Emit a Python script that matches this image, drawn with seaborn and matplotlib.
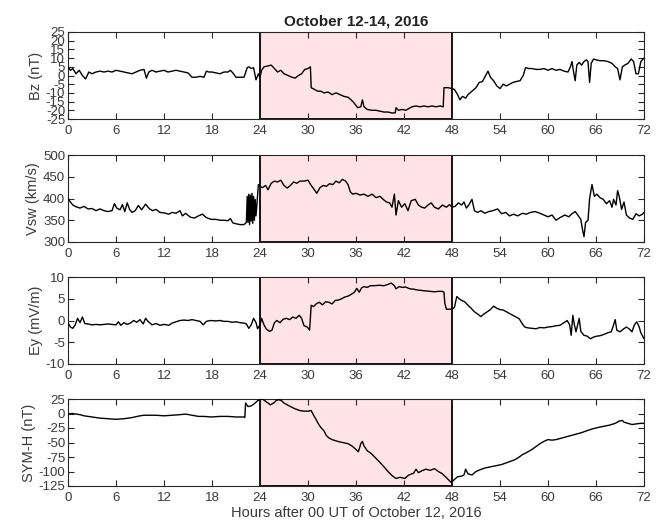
import numpy as np
import pandas as pd
import matplotlib
matplotlib.use("Agg")
import matplotlib.pyplot as plt
import seaborn as sns

# ---------------- data ----------------
bz_t = [0,0.3,0.6,1.0,1.4,1.8,2.2,2.6,3.0,3.5,4.0,4.5,5.0,5.5,6.0,6.5,7.0,7.5,8.0,8.5,9.0,9.5,9.8,10.1,10.5,11.0,11.5,12.0,12.5,13.0,13.5,14.0,14.5,15.0,15.5,16.0,16.5,17.0,17.3,17.6,18.0,18.5,19.0,19.5,20.0,20.3,20.6,21.0,21.5,22.0,22.4,22.6,22.9,23.2,23.5,23.8,24.0,
        24.2,24.5,25.0,25.4,25.8,26.2,26.6,27.0,27.5,28.0,28.4,28.8,29.2,29.6,30.0,30.3,30.4,30.8,31.2,31.6,32.0,32.5,33.0,33.5,34.0,34.5,35.0,35.4,35.8,36.2,36.6,36.8,37.0,37.4,38.0,38.5,39.0,39.5,40.0,40.5,40.9,41.0,41.3,41.8,42.2,42.6,43.0,43.5,44.0,44.5,45.0,45.5,46.0,46.5,46.9,47.0,47.5,48.0,
        48.3,48.7,49.0,49.3,49.7,50.0,50.5,51.0,51.4,51.8,52.2,52.5,52.8,53.2,53.6,54.0,54.4,54.8,55.2,55.6,56.0,56.5,56.9,57.2,57.6,58.0,58.5,59.0,59.5,60.0,60.5,61.0,61.5,62.0,62.5,62.8,63.0,63.2,63.4,63.6,63.9,64.2,64.5,64.8,65.0,65.2,65.4,65.7,66.0,66.5,67.0,67.5,68.0,68.4,68.7,69.0,69.3,69.6,70.0,70.4,70.7,71.0,71.3,71.6,72.0]
bz_v = [5,3,4,1,3,0,-2,2,1,2,2.5,2,2.5,2,3,2.5,2,1.5,1,2,3,3.5,-1.5,2,3,2,2.5,3,2,2.5,3,2.5,2,1.5,-1,-1,-0.5,-1,2.5,2,2,1.5,1,2,2,3,1.5,-1,-1,-1,4.5,5,4,4.5,-2.5,1,-1,
        3,5,5.5,6,4,2,3,1,0,-1,-1.5,0,1,3.5,4,5,-7,-8,-9,-9,-10,-9.5,-11,-10,-11,-12,-12.5,-14,-16,-18.5,-18,-14,-18,-19.5,-20,-20,-20.5,-21,-21,-21.5,-21.5,-18.5,-20,-19.5,-20,-19,-18,-17.5,-18,-17.5,-18,-17.5,-18,-17.5,-18,-7,-7,-7.5,
        -8,-11,-14,-12,-13,-11,-9,-7,-4,-3.5,0,2.5,-1,-3,-6,-7.5,-5,-6,-5,-4,-3.5,-3,0,4.5,4,4,3.5,3.5,4,3,4,3,3.5,2.5,2,5,8,2,-3,6,7.5,6,8,9,8,-4,7,9.5,9,8.5,8.5,8,7,5,4,-2.5,5,6,7,9.5,8,1,1,8,10]

vsw_t = [0,0.3,0.6,1.0,1.5,2.0,2.5,3.0,3.5,4.0,4.5,5.0,5.5,5.8,6.1,6.5,6.8,7.1,7.4,7.7,8.0,8.4,8.8,9.2,9.7,10.2,10.6,11.0,11.5,12.0,12.6,13.0,13.5,14.0,14.3,14.7,15.3,15.8,16.3,16.8,17.3,17.9,18.5,19.0,19.5,20.0,20.3,20.6,21.0,21.5,22.0,22.3,22.4,22.5,22.6,22.7,22.8,22.9,23.0,23.1,23.2,23.3,23.4,23.5,23.8,24.0,
         24.3,24.7,25.0,25.4,25.8,26.2,26.6,27.0,27.4,27.8,28.2,28.6,29.0,29.5,30.0,30.4,30.8,31.1,31.5,31.9,32.3,32.7,33.1,33.5,33.9,34.3,34.7,35.0,35.3,35.6,36.0,36.5,37.0,37.5,38.0,38.5,39.0,39.4,39.8,40.2,40.5,40.8,41.0,41.3,41.7,42.1,42.5,42.9,43.4,43.8,44.2,44.6,45.0,45.4,45.8,46.3,46.8,47.3,47.7,48.0,
         48.4,48.8,49.2,49.5,49.8,50.1,50.5,50.8,51.2,51.6,52.1,52.6,53.1,53.7,54.2,54.7,55.2,55.7,56.2,56.8,57.3,57.8,58.4,59.0,59.5,60.0,60.5,61.0,61.5,62.1,62.6,63.0,63.4,63.8,64.1,64.3,64.5,64.7,65.0,65.2,65.5,65.8,66.1,66.5,66.9,67.3,67.7,68.0,68.2,68.5,68.7,68.9,69.2,69.5,69.8,70.2,70.6,71.0,71.4,71.8,72.0]
vsw_v = [400,392,385,381,378,382,376,377,372,376,372,370,372,388,378,374,386,370,390,375,368,372,384,374,387,376,372,375,368,367,364,368,366,372,360,366,357,355,360,364,356,352,352,350,350,349,354,344,342,340,340,345,405,345,410,340,408,348,412,343,405,350,398,360,432,428,
         425,430,420,435,440,438,442,430,424,430,438,435,440,440,442,430,420,412,425,430,428,434,432,440,436,444,440,432,415,410,412,408,410,405,410,402,405,398,392,390,380,410,362,395,380,388,372,395,398,385,380,378,385,390,380,376,385,380,386,380,
         382,390,385,392,378,385,398,372,368,372,366,370,372,376,365,368,360,364,360,366,364,368,370,366,362,358,362,350,356,362,358,365,370,360,352,330,312,345,350,400,432,405,410,402,398,388,395,380,398,385,418,405,375,392,362,355,352,365,360,364,368]

ey_t = [0,0.3,0.6,0.9,1.2,1.5,1.8,2.1,2.5,3.0,3.5,4.0,4.5,5.0,5.5,6.0,6.3,6.6,7.0,7.4,7.8,8.2,8.6,9.0,9.4,9.7,10.0,10.5,11.0,11.5,12.0,12.6,13.0,13.5,14.0,14.5,15.0,15.5,16.0,16.5,16.9,17.3,17.8,18.5,19.0,19.5,20.0,20.5,21.0,21.5,22.0,22.3,22.6,22.9,23.2,23.5,23.7,24.0,
        24.2,24.5,24.8,25.2,25.5,25.8,26.1,26.5,26.9,27.3,27.7,28.1,28.5,28.9,29.2,29.5,29.9,30.2,30.4,30.7,31.0,31.4,31.8,32.2,32.6,33.0,33.4,33.8,34.2,34.6,35.0,35.4,35.8,36.1,36.4,36.7,37.0,37.4,37.8,38.3,38.9,39.5,40.0,40.4,40.8,41.0,41.4,41.8,42.2,42.7,43.2,43.7,44.2,44.8,45.3,45.8,46.3,46.8,47.0,47.1,47.3,47.7,48.0,
        48.3,48.6,48.9,49.2,49.6,50.0,50.4,50.8,51.2,51.6,52.0,52.4,52.8,53.2,53.6,54.0,54.4,54.8,55.2,55.6,56.0,56.4,56.8,57.1,57.5,58.0,58.5,59.0,59.5,60.0,60.5,61.0,61.5,62.0,62.4,62.7,62.9,63.1,63.3,63.5,63.7,63.9,64.1,64.5,64.9,65.3,65.7,66.1,66.5,67.0,67.5,67.9,68.2,68.4,68.6,69.0,69.4,69.8,70.2,70.5,70.8,71.1,71.4,71.6,71.8,72.0]
ey_v = [-0.5,-1.5,-1.8,-1.0,0.5,-0.5,0.8,-0.7,-0.8,-1,-0.9,-1.0,-0.9,-0.8,-0.9,-1,-0.3,-1.1,-0.5,-0.9,-0.6,0,-0.4,0.2,-0.8,0.5,-0.2,-1.0,-0.7,-1.1,-0.9,-1.1,-0.6,-0.3,0,0.1,0,0.2,0,-0.2,-1.0,-0.2,0,-0.1,0,-0.2,-0.2,-0.4,-0.3,-0.5,-0.6,-0.8,-1.8,-1.0,0.5,-0.5,-1.9,-1.0,
        0.5,-1,-2,-2.5,-2.2,-0.5,0,-0.5,0.3,0.5,0.2,0.8,0.5,1.2,0.5,-1.2,-1.5,-2.2,3.5,3.2,3.8,4.2,3.6,4.3,4.2,3.8,4.6,4.7,5.0,5.4,5.6,6.0,6.5,7.4,6.5,7.5,7.8,7.6,8.0,8.0,8.1,8.0,8.3,8.6,8.0,7.3,7.8,7.6,7.7,7.3,7.2,7.0,6.9,6.8,6.7,6.6,6.7,6.7,6.5,4.0,2.6,2.6,2.6,
        3.0,5.5,5.0,4.6,4.3,3.5,2.8,2.0,1.5,0.9,1.5,2.0,2.5,3.3,2.8,2.5,2.4,2.0,1.6,1.2,0.8,0.4,-0.8,-1.5,-1.7,-1.8,-1.9,-1.6,-1.7,-1.5,-1.4,-1.2,-1.1,-0.5,0,-1.0,-3.4,1.2,-1.0,-2.6,-1.0,0.5,-2.5,-3.4,-3.6,-4.2,-3.8,-3.6,-3.5,-3.2,-2.8,-2.6,-1.0,0.2,-2.2,-2.6,-2.0,-1.5,-2.0,-2.6,-1.0,-0.3,-1.5,-2.8,-3.5,-4.2]

symh_t = [0,0.5,1,1.5,2,3,4,5,6,7,8,9,9.5,10,11,12,13,14,14.7,15.5,16.3,17,17.9,19,20,21,22,22.1,22.2,22.5,22.9,23.3,23.7,24.0,24.3,24.6,25.0,25.3,25.7,26.0,26.3,26.7,27.0,27.4,27.8,28.4,29.0,29.5,30.0,30.4,30.7,31.0,31.3,31.6,32.0,32.3,32.6,33.0,33.7,34.3,35.0,35.5,36.0,36.3,36.6,36.8,37.0,37.4,37.9,38.4,38.9,39.5,40.0,40.5,41.0,41.5,42.1,42.6,43.2,43.5,43.8,44.2,44.7,45.3,45.8,46.3,46.8,47.4,47.9,
          48.2,48.7,49.2,49.5,49.7,50.0,50.5,51.0,51.5,52.1,52.8,53.5,54.2,55.0,55.8,56.3,56.8,57.5,58.0,58.4,59.0,59.5,60.0,60.5,61.0,61.8,62.6,63.4,64.2,65.0,65.7,66.3,67.0,67.7,68.4,68.9,69.3,69.5,70.0,70.5,71.0,71.5,72.0]
symh_v = [-1,0,-1,-2,-4,-6,-8,-9,-10,-9,-7,-4,-3,-3,-3,-4,-3,-2,-1,-3,-5,-5,-6,-5,-5,-6,-6,-7,18,12,13,17,22,24,25,22,18,15,18,22,24,22,18,15,12,8,5,4,4,5,-3,-10,-18,-24,-30,-38,-42,-45,-48,-50,-52,-56,-62,-66,-52,-48,-56,-64,-69,-76,-83,-92,-100,-107,-112,-110,-112,-106,-103,-96,-102,-99,-96,-98,-95,-100,-104,-112,-119,
          -115,-109,-108,-106,-96,-104,-106,-100,-97,-94,-92,-90,-88,-84,-80,-76,-71,-66,-62,-58,-52,-48,-45,-46,-45,-42,-39,-36,-33,-29,-26,-24,-22,-20,-17,-13,-12,-15,-17,-19,-18,-17,-17]

panels = [
    ("Bz (nT)", bz_t, bz_v, (-25, 25), list(range(-25, 26, 5))),
    ("Vsw (km/s)", vsw_t, vsw_v, (300, 500), [300, 350, 400, 450, 500]),
    ("Ey (mV/m)", ey_t, ey_v, (-10, 10), [-10, -5, 0, 5, 10]),
    ("SYM-H (nT)", symh_t, symh_v, (-125, 25), [-125, -100, -75, -50, -25, 0, 25]),
]
x_ticks = list(range(0, 73, 6))
event_start, event_end = 24, 48
title = "October 12-14, 2016"
xlabel = "Hours after 00 UT of October 12, 2016"

# ---------------- style ----------------
sns.set_theme(style="ticks")
plt.rcParams["font.family"] = ["Liberation Sans", "DejaVu Sans"]
text_col = "#3a3a3a"
plt.rcParams.update({
    "axes.edgecolor": "#262626",
    "axes.linewidth": 0.8,
    "xtick.color": "#262626",
    "ytick.color": "#262626",
    "xtick.labelcolor": text_col,
    "ytick.labelcolor": text_col,
    "axes.labelcolor": text_col,
})

W, H = 660, 526
fig = plt.figure(figsize=(W / 100, H / 100), dpi=100)
left, right = 68, 644
tops = [32, 155, 277, 399]
ph = 87

for i, (lab, t, v, ylim, yt) in enumerate(panels):
    top = tops[i]
    ax = fig.add_axes([left / W, 1 - (top + ph) / H, (right - left) / W, ph / H])
    ax.axvspan(event_start, event_end, facecolor="#FFE3E6", edgecolor="black",
               linewidth=1.3, zorder=0)
    df = pd.DataFrame({"t": t, "v": v})
    sns.lineplot(data=df, x="t", y="v", ax=ax, color="black", linewidth=1.0,
                 estimator=None, sort=False, zorder=3)
    ax.set_xlim(0, 72)
    ax.set_ylim(*ylim)
    ax.set_xticks(x_ticks)
    ax.set_yticks(yt)
    ax.set_yticklabels([str(y) for y in yt])
    ax.tick_params(direction="in", length=4, width=0.8, top=True, right=True,
                   labelsize=9.5)
    ax.tick_params(axis="x", pad=4)
    ax.tick_params(axis="y", pad=2)
    ax.set_ylabel(lab, fontsize=10.5, labelpad=2)
    ax.set_xlabel("")
    for s in ax.spines.values():
        s.set_visible(True)
    if i == 0:
        ax.set_title(title, fontsize=11, fontweight="bold", color="#222222", pad=5)
    if i == 3:
        ax.set_xlabel(xlabel, fontsize=10.5, labelpad=2)

fig.savefig("out.png", dpi=100)
